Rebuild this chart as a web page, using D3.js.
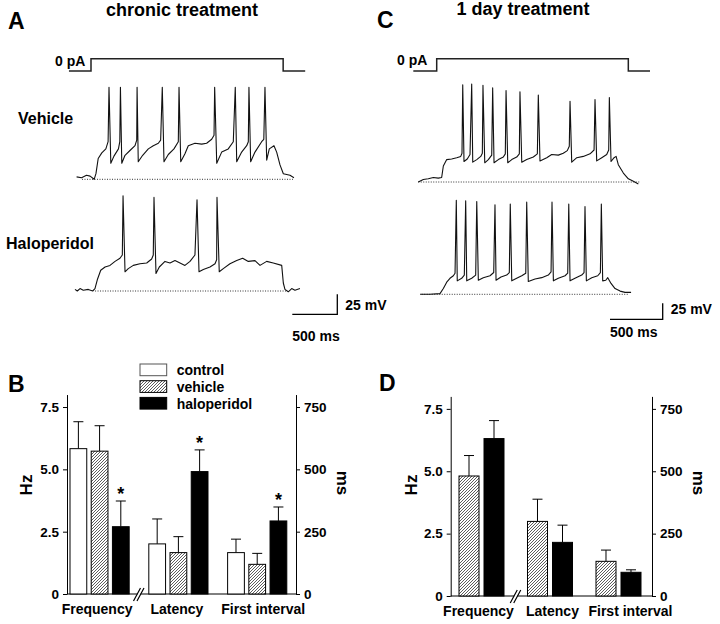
<!DOCTYPE html>
<html><head><meta charset="utf-8">
<script src="https://cdn.jsdelivr.net/npm/d3@7"></script>
<style>
body{margin:0;background:#fff}
svg{display:block}
text{font-family:Arial,"Liberation Sans",Helvetica,sans-serif;font-weight:bold;fill:#000}
</style>
</head><body>
<svg id="fig" width="720" height="624"></svg>
<script>
// ---------------- DATA ----------------
// Current step (ms from step onset) and normalized level
const stepA = [[-245,0],[0,1],[2135,0],[2380,0]];
const stepC = [[-222,0],[0,1],[1818,0],[2024,0]];

// Traces: [time ms, mV above resting potential]; spikes listed separately as [time ms, peak mV]
const vehSubA = [[-160,3],[-105,2],[-50,5],[-10,4],[35,0],[55,7],[80,26],[120,33],[165,38],[190,47],[220,20],[255,29],[305,38],[320,47],[342,20],[378,30],[433,36],[489,42],[508,49],[525,22],[574,30],[637,38],[692,42],[748,45],[774,49],[811,22],[859,31],[922,38],[970,47],[997,22],[1044,32],[1081,42],[1155,45],[1230,44],[1285,45],[1341,50],[1367,55],[1397,20],[1452,34],[1525,38],[1581,47],[1619,22],[1674,34],[1730,42],[1748,47],[1774,22],[1822,34],[1896,47],[1920,50],[1952,24],[1981,38],[2033,42],[2063,34],[2100,18],[2137,7],[2211,5],[2255,2]];
const vehSpikesA = [[200,115],[327,115],[512,115],[792,115],[978,115],[1374,115],[1603,115],[1755,115],[1933,115]];
const halSubA = [[-178,2],[-152,0],[-122,3],[-86,1],[-30,2],[19,0],[44,3],[70,14],[108,26],[156,30],[211,32],[267,37],[322,41],[348,45],[378,24],[414,28],[470,32],[544,34],[619,35],[674,40],[692,45],[722,22],[759,30],[822,37],[878,35],[933,38],[989,35],[1044,32],[1100,37],[1155,45],[1200,24],[1248,27],[1322,30],[1378,34],[1396,39],[1425,24],[1470,28],[1544,34],[1619,38],[1685,41],[1748,37],[1822,38],[1878,32],[1952,37],[2025,35],[2119,32],[2137,10],[2155,2],[2192,-1],[2230,3],[2266,1],[2322,3]];
const halSpikesA = [[356,119],[700,117],[1178,114],[1400,117]];

const vehSubC = [[-175,0],[-127,4],[-80,5],[-32,7],[15,6],[47,7],[63,25],[95,35],[142,36],[190,38],[228,40],[240,45],[259,32],[290,36],[316,43],[342,31],[380,35],[418,40],[433,45],[456,30],[490,35],[522,42],[544,30],[585,35],[632,39],[651,44],[674,30],[712,35],[759,39],[784,44],[807,31],[854,35],[917,39],[955,44],[980,33],[1044,38],[1091,43],[1154,42],[1201,45],[1239,49],[1258,56],[1281,31],[1329,38],[1391,40],[1455,44],[1493,50],[1518,33],[1566,38],[1613,43],[1632,50],[1654,32],[1683,38],[1702,40],[1723,27],[1771,14],[1818,5],[1866,1],[1913,-3]];
const vehSpikesC = [[247,152],[332,153],[439,151],[531,147],[658,143],[790,141],[964,136],[1265,126],[1502,129],[1638,132]];
const halSubC = [[-158,0],[-64,0],[31,1],[63,9],[95,19],[126,25],[158,29],[174,33],[195,21],[237,25],[262,30],[285,21],[332,25],[370,30],[395,22],[442,26],[506,29],[541,34],[563,22],[610,27],[664,30],[689,34],[712,21],[759,25],[807,29],[845,33],[869,20],[933,24],[996,26],[1059,30],[1085,35],[1107,21],[1154,25],[1218,29],[1243,33],[1265,21],[1312,25],[1376,30],[1398,34],[1420,21],[1471,26],[1528,29],[1553,34],[1575,21],[1604,22],[1623,26],[1654,17],[1692,9],[1740,5],[1787,3],[1844,3]];
const halSpikesC = [[186,147],[275,146],[380,145],[553,140],[698,141],[854,144],[1094,144],[1253,141],[1407,137],[1562,141]];

const baselineA = {veh:[-100,2244], hal:[45,2175]};
const baselineC = {veh:[-175,1930], hal:[-142,1818]};

// Bar charts
const categories = ["Frequency","Latency","First interval"];
const groupsB = ["control","vehicle","haloperidol"];
const freqHzB = [5.83,5.73,2.70];      const freqSemB = [1.08,1.02,1.03];
const latencyMsB = [201,166,491];     const latencySemB = [100,64,87];
const firstIntMsB = [166,119,293];    const firstIntSemB = [54,44,56];
const sigB = [[false,false,true],[false,false,true],[false,false,true]];

const groupsD = ["vehicle","haloperidol"];
const freqHzD = [4.81,6.31];          const freqSemD = [0.82,0.72];
const latencyMsD = [299,215];         const latencySemD = [89,69];
const firstIntMsD = [139,95];         const firstIntSemD = [45,10];

const hzTicks = [0,2.5,5,7.5];
const msTicks = [0,250,500,750];

// ---------------- DRAW ----------------
const svg = d3.select("#fig");
const defs = svg.append("defs");
const pat = defs.append("pattern").attr("id","hatch").attr("patternUnits","userSpaceOnUse")
  .attr("width",3).attr("height",3);
pat.append("rect").attr("width",3).attr("height",3).attr("fill","#fff");
pat.append("path").attr("d","M-1,1 l2,-2 M0,3 l3,-3 M2,4 l2,-2").attr("stroke","#333").attr("stroke-width",0.8);

function txt(x,y,s,size,anchor){
  return svg.append("text").attr("x",x).attr("y",y).attr("font-size",size)
    .attr("text-anchor",anchor||"start").text(s);
}

// Titles & panel letters
txt(8,29,"A",23); txt(377,28,"C",23); txt(8,392,"B",23); txt(379,391,"D",23);
txt(182,16,"chronic treatment",18,"middle");
txt(523,15,"1 day treatment",18,"middle");
txt(18,124,"Vehicle",16); txt(6,249,"Haloperidol",16);
txt(55,66,"0 pA",14); txt(397,65,"0 pA",14);

const line = (x,y)=>d3.line().x(d=>x(d[0])).y(d=>y(d[1]));

function drawStep(data,x,y){
  svg.append("path").attr("d",line(x,y).curve(d3.curveStepAfter)(data))
    .attr("fill","none").attr("stroke","#222").attr("stroke-width",1.5);
}
function drawTrace(sub,spk,x,y,base){
  const pts = sub.concat(spk).sort((a,b)=>a[0]-b[0]);
  svg.append("line").attr("x1",x(base[0])).attr("x2",x(base[1])).attr("y1",y(0)).attr("y2",y(0))
    .attr("stroke","#333").attr("stroke-width",1).attr("stroke-dasharray","1,1.5");
  svg.append("path").attr("d",line(x,y)(pts)).attr("fill","none").attr("stroke","#111")
    .attr("stroke-width",1.1).attr("stroke-linejoin","round");
}
function scaleBar(x,y,cx,cy,yTxt,msY){
  const w = x(500)-x(0), h = y(0)-y(25);
  svg.append("path").attr("d",`M${cx-w},${cy}H${cx}V${cy-h}`).attr("fill","none")
    .attr("stroke","#000").attr("stroke-width",1.3);
  txt(cx+8,yTxt,"25 mV",14);
  txt(cx-w,msY,"500 ms",14);
}

// Panel A
const xA = d3.scaleLinear().domain([0,500]).range([91,136]);
const yStep = d3.scaleLinear().domain([0,1]).range([71,58.7]);
const yAveh = d3.scaleLinear().domain([0,25]).range([179.3,159.3]);
const yAhal = d3.scaleLinear().domain([0,25]).range([291,271]);
drawStep(stepA,xA,yStep);
drawTrace(vehSubA,vehSpikesA,xA,yAveh,baselineA.veh);
drawTrace(halSubA,halSpikesA,xA,yAhal,baselineA.hal);
scaleBar(xA,yAveh,337.3,314.3,310,341);

// Panel C
const xC = d3.scaleLinear().domain([0,500]).range([436.7,489.4]);
const yCveh = d3.scaleLinear().domain([0,25]).range([182,166]);
const yChal = d3.scaleLinear().domain([0,25]).range([294.3,278.3]);
drawStep(stepC,xC,yStep);
drawTrace(vehSubC,vehSpikesC,xC,yCveh,baselineC.veh);
drawTrace(halSubC,halSpikesC,xC,yChal,baselineC.hal);
scaleBar(xC,yCveh,662.7,319.3,314,337);

// Bar charts
const fills = {control:"#fff", vehicle:"url(#hatch)", haloperidol:"#000"};
function barChart(cfg){
  const yHz = d3.scaleLinear().domain([0,8]).range([cfg.y0, cfg.y0-8*cfg.ppu]);
  const yMs = d3.scaleLinear().domain([0,800]).range([cfg.y0, cfg.y0-8*cfg.ppu]);
  const xG = d3.scaleBand().domain(categories).range(cfg.xr).paddingInner(cfg.padG).paddingOuter(0);
  const xS = d3.scaleBand().domain(cfg.groups).range([0,xG.bandwidth()]).paddingInner(cfg.padS).paddingOuter(0);
  const g = svg.append("g");
  const axL = g.append("g").attr("transform",`translate(${cfg.axL},0)`)
    .call(d3.axisLeft(yHz).tickValues(hzTicks).tickSize(4).tickSizeOuter(0).tickPadding(4)
      .tickFormat(d=>d===0?"0":d3.format(".1f")(d)));
  const axR = g.append("g").attr("transform",`translate(${cfg.axR},0)`)
    .call(d3.axisRight(yMs).tickValues(msTicks).tickSize(4).tickSizeOuter(0).tickPadding(4));
  [axL,axR].forEach(a=>{
    a.selectAll("text").attr("font-size",13.5).attr("fill","#000");
    a.selectAll("path,line").attr("stroke","#000");
  });
  // baseline with break
  const bx = (xG("Frequency")+xG.bandwidth()+xG("Latency"))/2;
  g.append("path").attr("d",`M${cfg.axL},${cfg.y0}H${bx-1.5}M${bx+1.5},${cfg.y0}H${cfg.axR}`)
    .attr("stroke","#000").attr("fill","none");
  g.append("path").attr("d",`M${bx-5.5},${cfg.y0+7}L${bx+1.5},${cfg.y0-6}M${bx-2},${cfg.y0+7}L${bx+5},${cfg.y0-6}`)
    .attr("stroke","#000").attr("stroke-width",1.2).attr("fill","none");
  categories.forEach((c,ci)=>{
    const y = ci===0?yHz:yMs;
    cfg.means[ci].forEach((m,si)=>{
      const s = cfg.groups[si];
      const x = xG(c)+xS(s), w = xS.bandwidth(), cx = x+w/2;
      const top = y(m), et = y(m+cfg.sems[ci][si]);
      g.append("line").attr("x1",cx).attr("x2",cx).attr("y1",top).attr("y2",et).attr("stroke","#000");
      g.append("line").attr("x1",cx-5).attr("x2",cx+5).attr("y1",et).attr("y2",et).attr("stroke","#000");
      g.append("rect").attr("x",x).attr("y",top).attr("width",w).attr("height",cfg.y0-top)
        .attr("fill",fills[s]).attr("stroke","#000").attr("stroke-width",1);
      if(cfg.sig && cfg.sig[ci][si]) txt(cx,et-1,"*",18,"middle");
    });
    txt(xG(c)+xG.bandwidth()/2+cfg.labDx[ci],cfg.labY,c,14,"middle");
  });
  svg.append("text").attr("transform",`translate(${cfg.hzX},${485}) rotate(-90)`)
    .attr("font-size",17).attr("text-anchor","middle").text("Hz");
  svg.append("text").attr("transform",`translate(${cfg.msX},${483}) rotate(90)`)
    .attr("font-size",17).attr("text-anchor","middle").text("ms");
}

barChart({y0:594, ppu:24.93, xr:[70,286.8], padG:0.249, padS:0.21, groups:groupsB,
  axL:67, axR:296, means:[freqHzB,latencyMsB,firstIntMsB], sems:[freqSemB,latencySemB,firstIntSemB],
  sig:sigB, labDx:[-2.5,-1.5,6], labY:614, hzX:32, msX:337});
barChart({y0:596, ppu:24.95, xr:[459,641], padG:0.343, padS:0.2, groups:groupsD,
  axL:450.7, axR:652, means:[freqHzD,latencyMsD,firstIntMsD], sems:[freqSemD,latencySemD,firstIntSemD],
  sig:null, labDx:[-3,2.5,12], labY:616, hzX:417, msX:693});

// Legend (panel B)
groupsB.forEach((s,i)=>{
  const y = 364 + i*16.7;
  svg.append("rect").attr("x",140).attr("y",y).attr("width",26.7).attr("height",11.7)
    .attr("fill",fills[s]).attr("stroke",i===0?"#555":"#000").attr("stroke-width",1);
  txt(176.7,y+11.2,s,14);
});
</script>
</body></html>
